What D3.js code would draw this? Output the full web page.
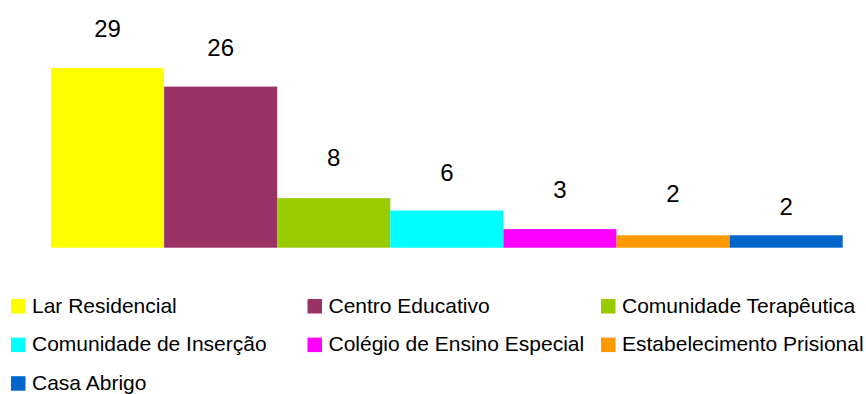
<!DOCTYPE html>
<html>
<head>
<meta charset="utf-8">
<script src="https://cdn.jsdelivr.net/npm/d3@7/dist/d3.min.js"></script>
<style>
  html, body { margin: 0; padding: 0; background: #fff; }
  svg { display: block; }
  text { font-family: "Liberation Sans", Arial, sans-serif; fill: #000; }
</style>
</head>
<body>
<div id="chart"></div>
<script>
// Data
const categories = [
  "Lar Residencial",
  "Centro Educativo",
  "Comunidade Terapêutica",
  "Comunidade de Inserção",
  "Colégio de Ensino Especial",
  "Estabelecimento Prisional",
  "Casa Abrigo"
];
const values = [29, 26, 8, 6, 3, 2, 2];
const colors = ["#ffff00", "#993366", "#99cc00", "#00ffff", "#ff00ff", "#ff9900", "#0066cc"];

// Layout
const W = 866, H = 394;
const plot = { left: 51, right: 842.7, top: 68, bottom: 247.7 };
const labelLift = [31, 31, 32, 30, 31, 33, 20]; // gap between bar top and value label baseline
const legendCols = [11, 307.5, 601];
const legendRowY = 299, legendRowStep = 38.6, swatch = 14.5;

const svg = d3.select("#chart").append("svg")
  .attr("width", W).attr("height", H);

const x = d3.scaleBand()
  .domain(categories)
  .range([plot.left, plot.right])
  .padding(0);

const y = d3.scaleLinear()
  .domain([0, d3.max(values)])
  .range([plot.bottom, plot.top]);

const rows = categories.map((c, i) => ({ c, v: values[i], col: colors[i], lift: labelLift[i] }));

// Bars
svg.append("g").selectAll("rect")
  .data(rows)
  .join("rect")
  .attr("x", d => x(d.c))
  .attr("y", d => y(d.v))
  .attr("width", x.bandwidth())
  .attr("height", d => y(0) - y(d.v))
  .attr("fill", d => d.col);

// Value labels
svg.append("g").selectAll("text")
  .data(rows)
  .join("text")
  .attr("x", d => x(d.c) + x.bandwidth() / 2)
  .attr("y", d => y(d.v) - d.lift)
  .attr("text-anchor", "middle")
  .style("font-size", "24px")
  .text(d => d.v);

// Legend (3 columns)
const legend = svg.append("g").selectAll("g")
  .data(rows)
  .join("g")
  .attr("transform", (d, i) =>
    `translate(${legendCols[i % 3]},${legendRowY + Math.floor(i / 3) * legendRowStep})`);

legend.append("rect")
  .attr("width", swatch)
  .attr("height", swatch)
  .attr("fill", d => d.col);

legend.append("text")
  .attr("x", 21)
  .attr("y", 13.5)
  .style("font-size", "21px")
  .text(d => d.c);
</script>
</body>
</html>
